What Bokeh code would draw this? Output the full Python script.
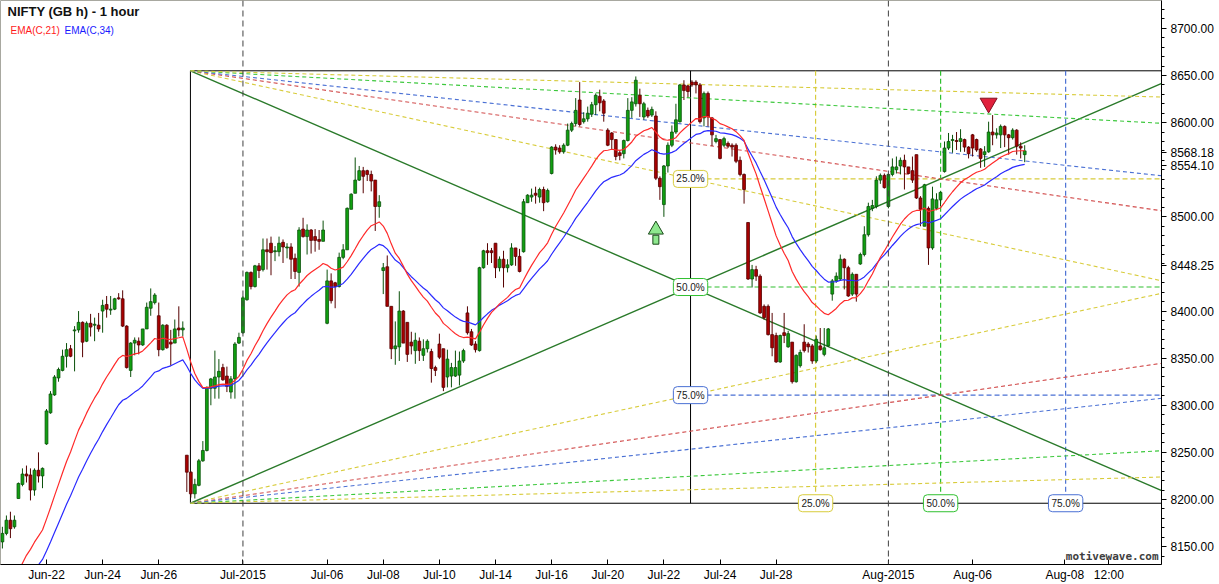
from bokeh.plotting import figure
from bokeh.models import (ColumnDataSource, Range1d, FixedTicker, PrintfTickFormatter, Label, Span)
from bokeh.embed import file_html
from bokeh.resources import INLINE

# ---------------- data (hourly bars, bar 0 = Jun-22 09:15) ----------------
FIRST_BAR = -11
opens = [8155, 8164, 8178, 8171, 8201, 8216, 8227, 8226, 8210, 8231, 8225,
         8259, 8292, 8311, 8329, 8337, 8352, 8360, 8379, 8380, 8388,
         8368, 8387, 8385, 8385, 8400, 8407, 8401, 8402, 8414, 8413,
         8384, 8337, 8366, 8368, 8364, 8381, 8403, 8409, 8395, 8359,
         8385, 8367, 8366, 8382, 8380, 8247, 8229, 8206, 8215, 8241,
         8252, 8318, 8318, 8330, 8340, 8331, 8314, 8328, 8366, 8377,
         8412, 8441, 8426, 8448, 8444, 8465, 8472, 8463, 8463, 8473,
         8467, 8468, 8456, 8441, 8487, 8479, 8486, 8479, 8476, 8474,
         8387, 8432, 8430, 8426, 8457, 8465, 8508, 8525, 8539, 8549,
         8549, 8545, 8539, 8511, 8443, 8447, 8405, 8360, 8362, 8400,
         8388, 8367, 8358, 8368, 8353, 8360, 8357, 8340, 8365, 8360,
         8330, 8331, 8331, 8332, 8347, 8398, 8378, 8365, 8358, 8446,
         8464, 8464, 8472, 8446, 8455, 8446, 8449, 8467, 8458, 8463,
         8515, 8521, 8525, 8521, 8529, 8516, 8546, 8574, 8573, 8569,
         8576, 8592, 8599, 8624, 8601, 8604, 8609, 8619, 8628, 8623,
         8592, 8589, 8582, 8568, 8567, 8581, 8613, 8620, 8629, 8606,
         8613, 8608, 8607, 8541, 8513, 8554, 8576, 8590, 8601, 8640,
         8639, 8643, 8643, 8640, 8605, 8631, 8605, 8580, 8582, 8576,
         8578, 8576, 8576, 8560, 8545, 8494, 8434, 8444, 8437, 8405,
         8405, 8375, 8374, 8346, 8377, 8362, 8367, 8325, 8342, 8367,
         8365, 8363, 8347, 8363, 8354, 8363, 8418, 8432, 8434, 8455,
         8446, 8418, 8439, 8450, 8460, 8481, 8509, 8511, 8539, 8544,
         8511, 8545, 8550, 8554, 8560, 8553, 8549, 8566, 8520, 8490,
         8509, 8467, 8509, 8518, 8548, 8573, 8581, 8581, 8580, 8582,
         8574, 8587, 8582, 8572, 8566, 8569, 8590, 8587, 8587, 8596,
         8587, 8584, 8592, 8575, 8566]
highs = [8171, 8183, 8187, 8183, 8218, 8233, 8236, 8233, 8233, 8250, 8234,
         8296, 8315, 8332, 8340, 8359, 8366, 8364, 8384, 8400, 8389,
         8389, 8397, 8393, 8398, 8412, 8416, 8416, 8414, 8419, 8422,
         8385, 8367, 8372, 8372, 8381, 8409, 8424, 8419, 8409, 8386,
         8386, 8380, 8391, 8405, 8389, 8247, 8230, 8222, 8243, 8262,
         8320, 8329, 8358, 8349, 8344, 8341, 8331, 8367, 8377, 8416,
         8442, 8442, 8449, 8451, 8477, 8477, 8479, 8469, 8479, 8476,
         8472, 8472, 8461, 8489, 8499, 8492, 8487, 8487, 8486, 8496,
         8444, 8440, 8431, 8462, 8471, 8510, 8525, 8563, 8554, 8553,
         8550, 8549, 8539, 8523, 8451, 8459, 8405, 8389, 8421, 8401,
         8388, 8378, 8377, 8372, 8370, 8370, 8360, 8342, 8376, 8360,
         8359, 8345, 8358, 8357, 8360, 8405, 8381, 8368, 8447, 8465,
         8472, 8467, 8472, 8458, 8464, 8455, 8472, 8467, 8466, 8519,
         8524, 8530, 8532, 8531, 8532, 8530, 8575, 8577, 8576, 8578,
         8599, 8601, 8626, 8643, 8611, 8617, 8622, 8631, 8635, 8625,
         8594, 8590, 8582, 8571, 8582, 8626, 8627, 8649, 8636, 8622,
         8616, 8617, 8612, 8543, 8555, 8579, 8597, 8620, 8641, 8645,
         8640, 8645, 8645, 8642, 8633, 8633, 8606, 8587, 8582, 8585,
         8580, 8578, 8578, 8564, 8546, 8494, 8449, 8448, 8439, 8407,
         8407, 8398, 8377, 8375, 8398, 8379, 8367, 8354, 8359, 8386,
         8367, 8365, 8374, 8382, 8382, 8382, 8434, 8441, 8460, 8456,
         8448, 8441, 8439, 8462, 8490, 8515, 8518, 8543, 8546, 8546,
         8546, 8562, 8564, 8563, 8566, 8553, 8564, 8566, 8522, 8535,
         8511, 8532, 8525, 8527, 8580, 8589, 8587, 8590, 8593, 8583,
         8575, 8588, 8583, 8573, 8575, 8601, 8608, 8594, 8598, 8597,
         8588, 8594, 8593, 8579, 8576]
lows = [8148, 8162, 8159, 8169, 8201, 8214, 8218, 8199, 8204, 8218, 8212,
        8258, 8291, 8310, 8325, 8336, 8340, 8351, 8336, 8377, 8351,
        8367, 8373, 8368, 8378, 8377, 8393, 8396, 8401, 8412, 8383,
        8339, 8330, 8353, 8354, 8363, 8381, 8395, 8407, 8352, 8358,
        8360, 8342, 8366, 8373, 8373, 8208, 8202, 8201, 8214, 8240,
        8251, 8300, 8307, 8307, 8326, 8314, 8307, 8307, 8365, 8376,
        8411, 8423, 8425, 8435, 8442, 8444, 8438, 8453, 8458, 8451,
        8456, 8434, 8434, 8426, 8478, 8460, 8461, 8463, 8465, 8474,
        8386, 8408, 8403, 8425, 8455, 8465, 8508, 8525, 8538, 8525,
        8538, 8527, 8485, 8499, 8418, 8405, 8349, 8343, 8347, 8366,
        8346, 8354, 8344, 8347, 8347, 8356, 8324, 8331, 8349, 8315,
        8319, 8319, 8330, 8321, 8345, 8375, 8363, 8356, 8357, 8445,
        8449, 8451, 8435, 8442, 8425, 8441, 8448, 8448, 8441, 8462,
        8515, 8516, 8514, 8515, 8506, 8515, 8545, 8566, 8567, 8567,
        8575, 8590, 8596, 8596, 8599, 8601, 8606, 8608, 8612, 8601,
        8575, 8571, 8560, 8560, 8562, 8580, 8605, 8617, 8606, 8603,
        8605, 8606, 8539, 8518, 8500, 8547, 8574, 8588, 8600, 8624,
        8627, 8638, 8631, 8599, 8596, 8596, 8575, 8578, 8561, 8574,
        8573, 8564, 8557, 8543, 8514, 8433, 8425, 8432, 8397, 8391,
        8374, 8352, 8345, 8345, 8366, 8361, 8323, 8324, 8340, 8356,
        8356, 8344, 8345, 8358, 8352, 8362, 8411, 8430, 8432, 8423,
        8415, 8416, 8410, 8449, 8458, 8479, 8506, 8509, 8535, 8530,
        8509, 8543, 8546, 8545, 8529, 8545, 8536, 8519, 8490, 8490,
        8449, 8465, 8507, 8511, 8547, 8571, 8568, 8571, 8569, 8569,
        8562, 8564, 8569, 8552, 8553, 8568, 8576, 8583, 8573, 8574,
        8566, 8582, 8566, 8562, 8558]
closes = [8164, 8178, 8169, 8178, 8217, 8227, 8225, 8210, 8231, 8225, 8233,
          8294, 8312, 8330, 8338, 8352, 8359, 8352, 8380, 8388, 8367,
          8387, 8383, 8386, 8381, 8406, 8402, 8402, 8413, 8413, 8384,
          8340, 8366, 8369, 8364, 8381, 8404, 8410, 8417, 8359, 8385,
          8361, 8365, 8381, 8380, 8382, 8229, 8206, 8216, 8241, 8252,
          8319, 8328, 8330, 8336, 8327, 8320, 8328, 8365, 8372, 8414,
          8441, 8426, 8448, 8443, 8465, 8463, 8462, 8464, 8472, 8468,
          8468, 8455, 8442, 8486, 8479, 8486, 8475, 8475, 8474, 8486,
          8432, 8411, 8426, 8457, 8465, 8509, 8524, 8539, 8549, 8543,
          8545, 8538, 8511, 8516, 8446, 8405, 8360, 8363, 8400, 8366,
          8354, 8363, 8369, 8358, 8360, 8368, 8339, 8337, 8351, 8319,
          8349, 8340, 8340, 8347, 8358, 8377, 8364, 8359, 8446, 8464,
          8462, 8462, 8446, 8455, 8446, 8449, 8467, 8458, 8442, 8516,
          8523, 8523, 8523, 8529, 8515, 8528, 8574, 8571, 8569, 8576,
          8592, 8599, 8613, 8598, 8604, 8610, 8619, 8629, 8621, 8610,
          8576, 8582, 8564, 8565, 8581, 8613, 8622, 8645, 8620, 8620,
          8607, 8614, 8541, 8532, 8554, 8576, 8590, 8603, 8640, 8634,
          8633, 8640, 8640, 8601, 8631, 8606, 8587, 8583, 8562, 8583,
          8575, 8574, 8559, 8545, 8529, 8434, 8444, 8437, 8398, 8393,
          8375, 8361, 8346, 8374, 8374, 8376, 8325, 8353, 8356, 8358,
          8362, 8347, 8370, 8359, 8361, 8381, 8432, 8437, 8455, 8446,
          8416, 8439, 8418, 8460, 8481, 8511, 8512, 8539, 8544, 8531,
          8545, 8553, 8553, 8560, 8553, 8546, 8539, 8520, 8508, 8534,
          8467, 8519, 8518, 8526, 8573, 8580, 8582, 8580, 8583, 8574,
          8567, 8573, 8571, 8562, 8569, 8590, 8587, 8589, 8596, 8587,
          8584, 8592, 8575, 8573, 8570]
assert len(opens) == len(highs) == len(lows) == len(closes)
bars = list(range(FIRST_BAR, FIRST_BAR + len(closes)))

x_tick_bars = [0, 14, 28, 49, 70, 84, 98, 112, 126, 140, 154, 168, 182, 210, 231, 254, 265]
x_tick_labels = ["Jun-22", "Jun-24", "Jun-26", "Jul-2015", "Jul-06", "Jul-08", "Jul-10",
                 "Jul-14", "Jul-16", "Jul-20", "Jul-22", "Jul-24", "Jul-28", "Aug-2015",
                 "Aug-06", "Aug-08", "12:00"]
month_start_bars = [49, 210]
# 8450 and 8550 are hidden behind the last-value tags in the original
y_tick_values = [8150, 8200, 8250, 8300, 8350, 8400, 8500, 8600, 8650, 8700]

ema_fast_len, ema_slow_len = 21, 34
ema_fast_seed, ema_slow_seed = 8086.0, 8070.0
last_value_prices = [8568.18, 8554.10, 8448.25]

# Gann box (bar, price)
gann_left, gann_right = 35.9, 285.4
gann_top, gann_bottom = 8655.0, 8196.0
fan_fracs = [1.0, 1 / 2, 1 / 3, 1 / 4, 1 / 8, 1 / 16]
level_fracs = [0.25, 0.50, 0.75]
level_texts = ["25.0%", "50.0%", "75.0%"]

buy_signal_bar, buy_signal_price = [152], [8481.0]
sell_signal_bar, sell_signal_price = [235], [8620.7]

# ---------------- styles ----------------
PX_PER_BAR = 4.009
PX_PER_PT = 0.9455
W, H = 1219, 584
FRAME_W, FRAME_H = 1161, 566
X0 = -46 / PX_PER_BAR
Y_TOP = 8700 + 28 / PX_PER_PT
FONT = "Liberation Sans"
UP_FILL, UP_LINE = "#10a010", "#0a500a"
DN_FILL, DN_LINE = "#a80000", "#560000"
FAN_COLORS = {1.0: "#2a7a2a", 1 / 2: "#d8cc3c", 1 / 3: "#d24e4e", 1 / 4: "#4a70d4",
              1 / 8: "#3cc83c", 1 / 16: "#d8cc3c"}
LEVEL_COLORS = ["#d8cc3c", "#30c030", "#4a70d4"]


def px_x(px):
    return X0 + px / PX_PER_BAR


def px_y(py):
    return Y_TOP - py / PX_PER_PT


p = figure(width=W, height=H, output_backend="svg", toolbar_location=None,
           x_range=Range1d(X0, X0 + FRAME_W / PX_PER_BAR),
           y_range=Range1d(Y_TOP - FRAME_H / PX_PER_PT, Y_TOP),
           y_axis_location="right", min_border_left=0, min_border_top=0,
           min_border_right=W - FRAME_W, min_border_bottom=H - FRAME_H)
p.background_fill_color = "white"
p.border_fill_color = "white"
p.outline_line_color = "#a8a8a0"
p.xgrid.grid_line_color = None
p.ygrid.grid_line_color = None

# axes
p.xaxis.ticker = FixedTicker(ticks=x_tick_bars)
p.xaxis.major_label_overrides = {b: t for b, t in zip(x_tick_bars, x_tick_labels)}
p.xaxis.major_tick_in = 5
p.xaxis.major_tick_out = 0
p.xaxis.minor_tick_line_color = None
p.xaxis.major_label_standoff = 3
p.yaxis.ticker = FixedTicker(ticks=sorted(y_tick_values + last_value_prices),
                             minor_ticks=list(range(8140, 8730, 10)))
p.yaxis.formatter = PrintfTickFormatter(format="%.2f")
p.yaxis.major_tick_in = 0
p.yaxis.major_tick_out = 5
p.yaxis.minor_tick_in = 0
p.yaxis.minor_tick_out = 3
p.yaxis.major_label_standoff = 4
for ax in (p.xaxis, p.yaxis):
    ax.axis_line_color = "black"
    ax.major_tick_line_color = "black"
    ax.major_label_text_font = FONT
    ax.major_label_text_font_size = "12px"
    ax.major_label_text_color = "black"
p.yaxis.minor_tick_line_color = "black"

# month separators
for b in month_start_bars:
    p.add_layout(Span(location=b, dimension="height", line_color="#404040",
                      line_dash="6 4", line_width=1))

# Gann box frame
mid = (gann_left + gann_right) / 2
span_p = gann_top - gann_bottom
p.segment(x0=[gann_left, gann_left, gann_left, mid], y0=[gann_top, gann_bottom, gann_bottom, gann_bottom],
          x1=[gann_right, gann_right, gann_left, mid], y1=[gann_top, gann_bottom, gann_top, gann_top],
          line_color="black", line_width=1)
# levels
for f, col in zip(level_fracs, LEVEL_COLORS):
    lvl = gann_top - f * span_p
    p.segment(x0=[mid], y0=[lvl], x1=[gann_right], y1=[lvl], line_color=col, line_dash="5 3", line_width=1.2)
    xv = mid + f * (gann_right - mid)
    p.segment(x0=[xv], y0=[gann_top], x1=[xv], y1=[gann_bottom], line_color=col, line_dash="5 3", line_width=1.2)
# fans
for f in fan_fracs:
    col = FAN_COLORS[f]
    dash = "solid" if f == 1.0 else "4 3"
    w = 1.4 if f == 1.0 else 1.1
    p.segment(x0=[gann_left, gann_left], y0=[gann_top, gann_bottom],
              x1=[gann_right, gann_right], y1=[gann_top - f * span_p, gann_bottom + f * span_p],
              line_color=col, line_dash=dash, line_width=w)


# EMAs (computed from the closes, as the chart's indicator does)
def ema(vals, n, seed):
    a = 2.0 / (n + 1)
    out, e = [], seed
    for v in vals:
        e = e + a * (v - e)
        out.append(e)
    return out


ema_fast = ema(closes, ema_fast_len, ema_fast_seed)
ema_slow = ema(closes, ema_slow_len, ema_slow_seed)

# candles
up = [c >= o for o, c in zip(opens, closes)]
src = ColumnDataSource(dict(
    x=bars, high=highs, low=lows,
    top=[max(o, c) for o, c in zip(opens, closes)],
    bot=[min(o, c) for o, c in zip(opens, closes)],
    fill=[UP_FILL if u else DN_FILL for u in up],
    line=[UP_LINE if u else DN_LINE for u in up],
))
p.segment(x0="x", y0="high", x1="x", y1="low", line_color="line", line_width=1, source=src)
p.vbar(x="x", width=0.7, top="top", bottom="bot", fill_color="fill", line_color="line",
       line_width=0.8, source=src)

p.line(bars, ema_slow, line_color="#2a2aff", line_width=1.2)
p.line(bars, ema_fast, line_color="#ff2a2a", line_width=1.2)

# signals
px2pt = 1 / PX_PER_PT
p.rect(x=buy_signal_bar, y=[v - 5 * px2pt for v in buy_signal_price], width=6 / PX_PER_BAR,
       height=9 * px2pt, fill_color="#8ee88e", line_color="#1a4a1a", line_width=1)
p.scatter(x=buy_signal_bar, y=[v + 5 * px2pt for v in buy_signal_price], marker="triangle",
          size=15, fill_color="#8ee88e", line_color="#1a4a1a", line_width=1)
p.scatter(x=sell_signal_bar, y=sell_signal_price, marker="inverted_triangle", size=17,
          fill_color="#e0203c", line_color="#801020", line_width=1)

# Gann labels
for f, t, col in zip(level_fracs, level_texts, LEVEL_COLORS):
    for lx, ly in ((mid, gann_top - f * span_p), (mid + f * (gann_right - mid), gann_bottom)):
        p.add_layout(Label(x=lx, y=ly, text=t, text_align="center",
                           text_baseline="middle", text_font=FONT, text_font_size="10px",
                           text_color="#202020", background_fill_color="white",
                           border_line_color=col, border_line_width=1, padding=3, border_radius=4))

# title & legend
p.add_layout(Label(x=px_x(7), y=px_y(4), text="NIFTY (GB h) - 1 hour",
                   text_baseline="top", text_font=FONT, text_font_size="13px",
                   text_font_style="bold", text_color="#111111"))
p.add_layout(Label(x=px_x(10), y=px_y(30), text="EMA(C,21)", text_baseline="middle",
                   text_font=FONT, text_font_size="10px", text_color="#ff1a1a"))
p.add_layout(Label(x=px_x(64), y=px_y(30), text="EMA(C,34)", text_baseline="middle",
                   text_font=FONT, text_font_size="10px", text_color="#1a1aff"))

# watermark (kept just inside the plot frame so it is not clipped)
p.add_layout(Label(x=px_x(1158), y=px_y(564), text="motivewave.com", text_align="right",
                   text_baseline="bottom", text_font="DejaVu Sans Mono", text_font_size="11px",
                   text_font_style="bold", text_color="#404040"))

open("out.html", "w").write(file_html(p, INLINE))
